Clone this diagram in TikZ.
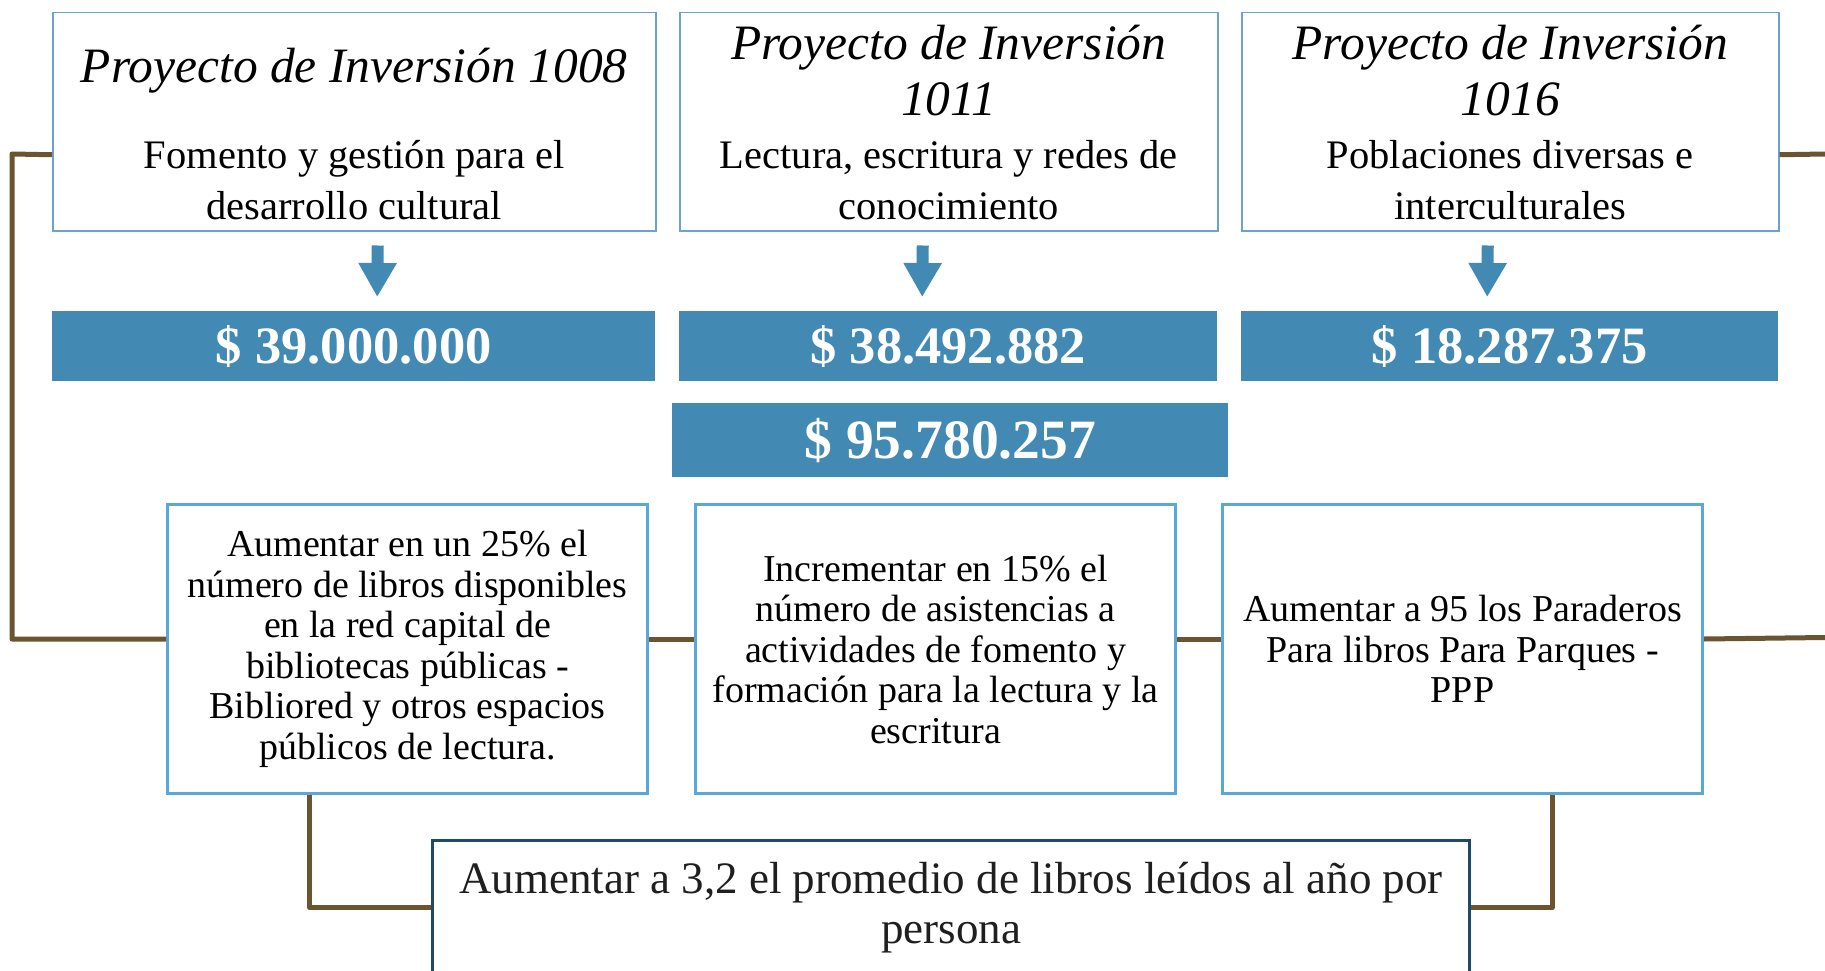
\documentclass[tikz,border=0pt]{standalone}
\usepackage{fontspec}
\setmainfont{Liberation Serif}
\usetikzlibrary{arrows.meta}

\definecolor{azulmonto}{HTML}{4289B4}
\definecolor{azulborde}{HTML}{6AA3CC}
\definecolor{azulmeta}{HTML}{5AA7DA}
\definecolor{azulfin}{HTML}{1B4A6B}
\definecolor{cafe}{HTML}{6B5430}

\begin{document}
\begin{tikzpicture}[x=1pt,y=-1pt]
    % ===================================
    % 設定
    % ===================================
    \def\hp{218}  % 上段の箱の高さ
    \def\hb{70}   % 金額の帯の高さ
    \def\gap{14}  % 矢印と箱の隙間

    \tikzset{
        caja/.style={draw=azulborde, line width=1.5pt, fill=white, anchor=north west,
            minimum height=\hp pt, inner sep=0pt},
        titulo/.style={font=\itshape\fontsize{49.5}{56}\selectfont, align=center},
        cuerpo/.style={font=\fontsize{40.5}{51}\selectfont, align=center},
        monto/.style={fill=azulmonto, text=white, anchor=north west, inner sep=0pt,
            minimum height=\hb pt, font=\bfseries\fontsize{52.5}{60}\selectfont},
        meta/.style={draw=azulmeta, line width=3pt, fill=white, anchor=north west,
            minimum width=480pt, minimum height=289pt, inner sep=0pt, align=center,
            font=\fontsize{38}{40.5}\selectfont},
        fin/.style={draw=azulfin, line width=3pt, fill=white, anchor=north west,
            minimum width=1037pt, minimum height=134pt, inner sep=0pt, align=center,
            text=black!88, font=\fontsize{45}{50}\selectfont},
        flecha/.style={draw=azulmonto, line width=12pt, -{Triangle[width=36pt,length=34pt]}},
        enlace/.style={draw=cafe, line width=5pt, line join=round}
    }
    % ===================================

    \useasboundingbox (0,0) rectangle (1825,971);
    \clip (0,0) rectangle (1825,971);

    % 1. 上段の箱 (プロジェクト)
    \node[caja, minimum width=603pt] (p1) at (52,12) {};
    \node[caja, minimum width=538pt] (p2) at (679,12) {};
    \node[caja, minimum width=537pt] (p3) at (1241,12) {};

    \node[titulo] (t1) at ([yshift=-59pt]p1.north) {Proyecto de Inversión 1008};
    \node[titulo] (t2) at ([yshift=-59pt]p2.north) {Proyecto de Inversión\\1011};
    \node[titulo] (t3) at ([yshift=-59pt]p3.north) {Proyecto de Inversión\\1016};

    \node[cuerpo] (c1) at ([yshift=-168pt]p1.north) {Fomento y gestión para el\\desarrollo cultural};
    \node[cuerpo] (c2) at ([yshift=-168pt]p2.north) {Lectura, escritura y redes de\\conocimiento};
    \node[cuerpo] (c3) at ([yshift=-168pt]p3.north) {Poblaciones diversas e\\interculturales};

    % 2. 金額の帯
    \node[monto, minimum width=603pt] (m1) at (52,311) {\$ 39.000.000};
    \node[monto, minimum width=538pt] (m2) at (679,311) {\$ 38.492.882};
    \node[monto, minimum width=537pt] (m3) at (1241,311) {\$ 18.287.375};
    \node[monto, minimum width=556pt, minimum height=74pt,
          font=\bfseries\fontsize{55.5}{64}\selectfont] (tot) at (672,403) {\$ 95.780.257};

    % 矢印 (箱 -> 金額)
    \draw[flecha] ([xshift=23.5pt,yshift=-\gap pt]p1.south) -- ([xshift=23.5pt,yshift=\gap pt]m1.north);
    \draw[flecha] ([xshift=-26pt,yshift=-\gap pt]p2.south) -- ([xshift=-26pt,yshift=\gap pt]m2.north);
    \draw[flecha] ([xshift=-22.5pt,yshift=-\gap pt]p3.south) -- ([xshift=-22.5pt,yshift=\gap pt]m3.north);

    % 3. 目標の箱
    \node[meta] (gA) at (166,503) {Aumentar en un 25\% el\\número de libros disponibles\\en la red capital de\\bibliotecas públicas -\\Bibliored y otros espacios\\públicos de lectura.};
    \node[meta] (gB) at (694,503) {Incrementar en 15\% el\\número de asistencias a\\actividades de fomento y\\formación para la lectura y la\\escritura};
    \node[meta] (gC) at (1221,503) {Aumentar a 95 los Paraderos\\Para libros Para Parques -\\PPP};

    % 最下段の箱
    \node[fin] (final) at (431,839) {Aumentar a 3,2 el promedio de libros leídos al año por\\persona};

    % 4. 茶色の線
    \coordinate (izq) at (12,154);
    \coordinate (der1) at (1825,154);
    \coordinate (der2) at (1825,637.5);

    \draw[enlace] ([yshift=-33pt]p1.west) -- (izq) |- ([yshift=10pt]gA.west);
    \draw[enlace] ([yshift=-33pt]p3.east) -- (der1);
    \draw[enlace] ([yshift=10pt]gA.east) -- ([yshift=10pt]gB.west);
    \draw[enlace] ([yshift=10pt]gB.east) -- ([yshift=10pt]gC.west);
    \draw[enlace] ([yshift=10pt]gC.east) -- (der2);

    \draw[enlace] ([xshift=-98pt]gA.south) |- (final.west);
    \draw[enlace] ([xshift=90pt]gC.south) |- (final.east);

\end{tikzpicture}
\end{document}
